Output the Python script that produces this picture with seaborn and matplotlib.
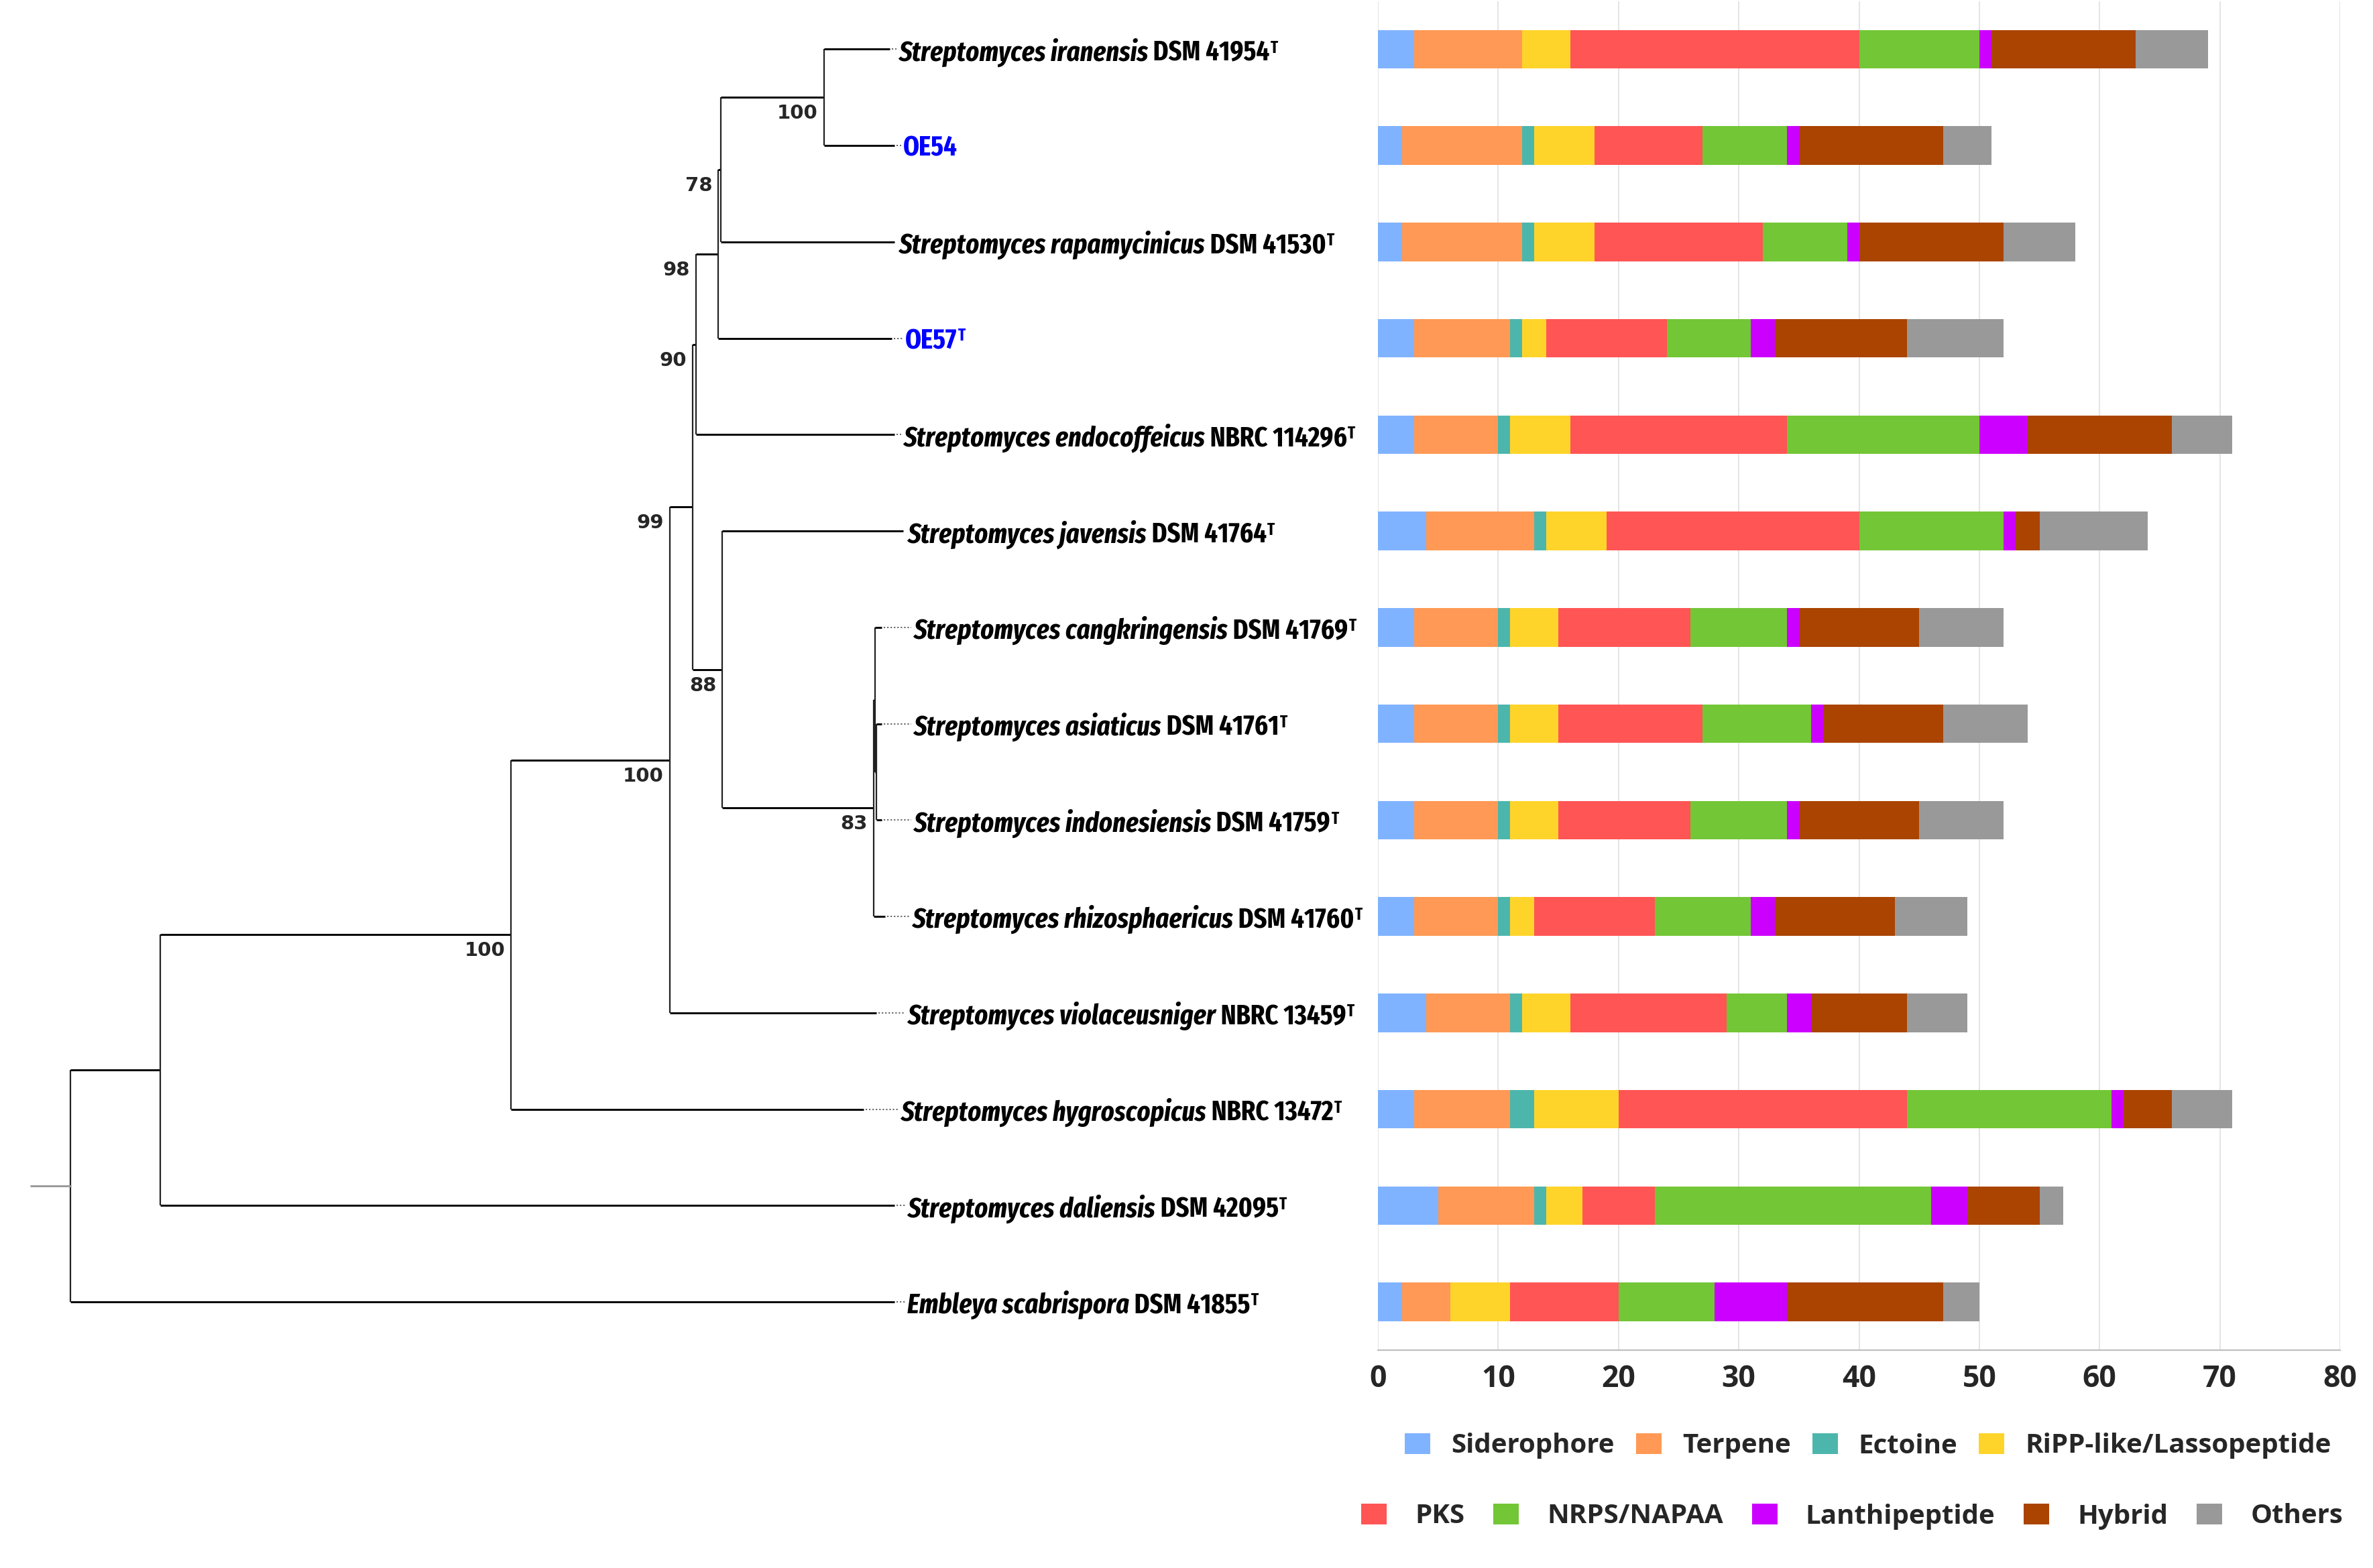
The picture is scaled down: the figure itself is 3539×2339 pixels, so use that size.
import matplotlib
matplotlib.use("Agg")
import matplotlib.pyplot as plt
from matplotlib import font_manager as fm
from matplotlib.patches import Patch
from matplotlib.font_manager import FontProperties
import numpy as np
import pandas as pd
import seaborn as sns

# ------------------------------------------------------------------ data
strain_ids = ["iranensis", "OE54", "rapamycinicus", "OE57", "endocoffeicus",
              "javensis", "cangkringensis", "asiaticus", "indonesiensis",
              "rhizosphaericus", "violaceusniger", "hygroscopicus",
              "daliensis", "scabrispora"]
species_names = ["Streptomyces iranensis", "", "Streptomyces rapamycinicus", "",
                 "Streptomyces endocoffeicus", "Streptomyces javensis",
                 "Streptomyces cangkringensis", "Streptomyces asiaticus",
                 "Streptomyces indonesiensis", "Streptomyces rhizosphaericus",
                 "Streptomyces violaceusniger", "Streptomyces hygroscopicus",
                 "Streptomyces daliensis", "Embleya scabrispora"]
strain_codes = ["DSM 41954", "OE54", "DSM 41530", "OE57", "NBRC 114296",
                "DSM 41764", "DSM 41769", "DSM 41761", "DSM 41759",
                "DSM 41760", "NBRC 13459", "NBRC 13472", "DSM 42095",
                "DSM 41855"]
type_strain = [True, False, True, True, True, True, True, True, True, True,
               True, True, True, True]
new_isolate = [False, True, False, True, False, False, False, False, False,
               False, False, False, False, False]

categories = ["Siderophore", "Terpene", "Ectoine", "RiPP-like/Lassopeptide",
              "PKS", "NRPS/NAPAA", "Lanthipeptide", "Hybrid", "Others"]
siderophore = [3, 2, 2, 3, 3, 4, 3, 3, 3, 3, 4, 3, 5, 2]
terpene = [9, 10, 10, 8, 7, 9, 7, 7, 7, 7, 7, 8, 8, 4]
ectoine = [0, 1, 1, 1, 1, 1, 1, 1, 1, 1, 1, 2, 1, 0]
ripp_lasso = [4, 5, 5, 2, 5, 5, 4, 4, 4, 2, 4, 7, 3, 5]
pks = [24, 9, 14, 10, 18, 21, 11, 12, 11, 10, 13, 24, 6, 9]
nrps_napaa = [10, 7, 7, 7, 16, 12, 8, 9, 8, 8, 5, 17, 23, 8]
lanthipeptide = [1, 1, 1, 2, 4, 1, 1, 1, 1, 2, 2, 1, 3, 6]
hybrid = [12, 12, 12, 11, 12, 2, 10, 10, 10, 10, 8, 4, 6, 13]
others = [6, 4, 6, 8, 5, 9, 7, 7, 7, 6, 5, 5, 2, 3]
series = [siderophore, terpene, ectoine, ripp_lasso, pks, nrps_napaa,
          lanthipeptide, hybrid, others]
colors = ["#80B3FF", "#FF9955", "#4DB6AC", "#FFD42A", "#FF5555", "#73C636",
          "#CC00FF", "#AA4400", "#999999"]
x_ticks = [0, 10, 20, 30, 40, 50, 60, 70, 80]

# phylogeny: node depth (tree axis units), children, bootstrap support
node_depth = {"root": 105, "A": 239, "B": 762, "C": 999, "D": 1033,
              "E": 1038, "G": 1071, "H": 1075, "I": 1229, "F": 1077,
              "J": 1303, "K1": 1305, "K2": 1307}
node_children = {"root": ["A", "scabrispora"], "A": ["B", "daliensis"],
                 "B": ["C", "hygroscopicus"], "C": ["D", "violaceusniger"],
                 "D": ["E", "F"], "E": ["G", "endocoffeicus"],
                 "G": ["H", "OE57"], "H": ["I", "rapamycinicus"],
                 "I": ["iranensis", "OE54"], "F": ["javensis", "J"],
                 "J": ["K1", "rhizosphaericus"], "K1": ["cangkringensis", "K2"],
                 "K2": ["asiaticus", "indonesiensis"]}
bootstrap = {"I": 100, "H": 78, "G": 98, "E": 90, "D": 99, "F": 88,
             "J": 83, "C": 100, "B": 100}
leaf_tip = [1327, 1334, 1334, 1330, 1334, 1347, 1315, 1315, 1315, 1320,
            1307, 1288, 1334, 1334]
label_start = [1340, 1347, 1340, 1350, 1347, 1353, 1362, 1362, 1362, 1360,
               1353, 1343, 1353, 1353]
root_stub_start = 46

# ------------------------------------------------------------------ fonts
sns.set_style("white")
entries = fm.fontManager.ttflist


def has_font(name, italic=False):
    for f in entries:
        if f.name == name:
            w = f.weight if isinstance(f.weight, (int, float)) else 700
            if (not italic or f.style == "italic") and w >= 600:
                return True
    return False


def pick(cands, italic=False):
    for c in cands:
        if has_font(c, italic):
            return c
    return "DejaVu Sans"


MAIN = pick(["Open Sans", "Noto Sans", "DejaVu Sans"])
LABEL = pick(["Fira Sans Extra Condensed", "Barlow Condensed",
              "Roboto Condensed", "IBM Plex Sans Condensed",
              "Fira Sans Condensed", "Open Sans"], italic=True)
plt.rcParams["font.family"] = [MAIN, "DejaVu Sans"]
plt.rcParams["font.weight"] = "bold"

# ------------------------------------------------------------------ figure
W, H = 3539, 2339
fig = plt.figure(figsize=(W / 100, H / 100), dpi=100)
ax_top_px, ax_bot_px = 1.5, 2014
x0_px, x80_px = 2055, 3490
bottom = 1 - ax_bot_px / H
height = (ax_bot_px - ax_top_px) / H
ax = fig.add_axes([x0_px / W, bottom, (x80_px - x0_px) / W, height])
axt = fig.add_axes([0, bottom, x0_px / W, height])

# stacked bars
df = pd.DataFrame({"strain": strain_ids})
cum = np.zeros(len(strain_ids))
cols = []
for name, vals in zip(categories, series):
    cum = cum + np.array(vals)
    df["cum_" + name] = cum
    cols.append("cum_" + name)
for col, c in reversed(list(zip(cols, colors))):
    sns.barplot(data=df, x=col, y="strain", order=strain_ids, color=c,
                width=0.4, saturation=1, linewidth=0, edgecolor="none",
                orient="h", errorbar=None, ax=ax)

ax.set_xlim(0, 80)
ax.set_ylim(len(strain_ids) - 0.5, -0.5)
ax.set_xticks(x_ticks)
ax.set_xlabel("")
ax.set_ylabel("")
ax.tick_params(axis="y", left=False, labelleft=False)
ax.tick_params(axis="x", length=0, pad=15, labelsize=32)
for lab in ax.get_xticklabels():
    lab.set_fontweight("bold")
ax.xaxis.grid(True, color="#dcdcdc", linewidth=1.1)
ax.yaxis.grid(False)
ax.set_axisbelow(True)
for s in ["left", "right", "top"]:
    ax.spines[s].set_visible(False)
ax.spines["bottom"].set_color("#bfbfbf")
ax.spines["bottom"].set_linewidth(1.6)

# ------------------------------------------------------------------ tree
axt.set_xlim(0, x0_px)
axt.set_ylim(len(strain_ids) - 0.5, -0.5)
axt.axis("off")
px_per_row = (ax_bot_px - ax_top_px) / len(strain_ids)

leaf_index = {s: i for i, s in enumerate(strain_ids)}
parent = {}
for p, ch in node_children.items():
    for c in ch:
        parent[c] = p
node_y = {}


def get_y(n):
    if n in leaf_index:
        return float(leaf_index[n])
    if n not in node_y:
        ys = [get_y(c) for c in node_children[n]]
        node_y[n] = (min(ys) + max(ys)) / 2
    return node_y[n]


HLW, VLW = 2.1, 1.6
for n, ch in node_children.items():
    x = node_depth[n]
    ys = [get_y(c) for c in ch]
    axt.plot([x, x], [min(ys), max(ys)], color="#222222", lw=VLW,
             solid_capstyle="butt")
    for c in ch:
        xe = node_depth[c] if c in node_depth else leaf_tip[leaf_index[c]]
        axt.plot([x, xe], [get_y(c), get_y(c)], color="black", lw=HLW,
                 solid_capstyle="butt")

axt.plot([root_stub_start, node_depth["root"]], [get_y("root")] * 2,
         color="#999999", lw=HLW)

for i in range(len(strain_ids)):
    if label_start[i] - leaf_tip[i] > 8:
        axt.plot([leaf_tip[i] + 3, label_start[i] - 3], [i, i],
                 color="#555555", lw=1.3, ls=(0, (1.2, 1.6)))

for n, v in bootstrap.items():
    d = node_depth[n]
    pd_ = node_depth[parent[n]]
    anchor = d if d - pd_ >= 42 else pd_
    axt.text(anchor - 9, get_y(n) + 10 / px_per_row, str(v), ha="right",
             va="top", fontsize=21, fontweight="bold", family="DejaVu Sans")

# leaf labels
label_texts = []
base = 30
for i in range(len(strain_ids)):
    y = i
    if new_isolate[i]:
        t1 = axt.text(label_start[i], y, strain_codes[i], ha="left",
                      va="center_baseline", fontsize=base, family=LABEL,
                      fontweight="bold", color="#0000FF", clip_on=False)
        last = t1
        col = "#0000FF"
        parts = [t1]
    else:
        t1 = axt.text(label_start[i], y, species_names[i], ha="left",
                      va="center_baseline", fontsize=base, family=LABEL,
                      fontweight="bold", fontstyle="italic", color="black",
                      clip_on=False)
        t2 = axt.annotate(" " + strain_codes[i], xy=(1, 0), xycoords=t1,
                          ha="left", va="bottom", fontsize=base, family=LABEL,
                          fontweight="bold", color="black",
                          annotation_clip=False)
        last = t2
        col = "black"
        parts = [t1, t2]
    if type_strain[i]:
        t3 = axt.annotate("T", xy=(1, 1), xycoords=last, xytext=(1.0, 0),
                          textcoords="offset points", ha="left", va="top",
                          fontsize=base * 0.6, family=LABEL,
                          fontweight="bold", color=col,
                          annotation_clip=False)
        parts.append(t3)
    label_texts.append(parts)

# fit label size so the first label spans its width in the reference
target_w = 566.0
for _ in range(4):
    fig.canvas.draw()
    r = fig.canvas.get_renderer()
    exts = [t.get_window_extent(r) for t in label_texts[0]]
    w0 = max(e.x1 for e in exts) - min(e.x0 for e in exts)
    scale = target_w / w0
    for parts in label_texts:
        for t in parts:
            t.set_fontsize(t.get_fontsize() * scale)

# ------------------------------------------------------------------ legends
prop = FontProperties(family=MAIN, weight="bold", size=29)
fsz = 29 / 72 * 100
h1 = [Patch(facecolor=c, edgecolor="none", label=n)
      for n, c in zip(categories[:4], colors[:4])]
h2 = [Patch(facecolor=c, edgecolor="none", label=n)
      for n, c in zip(categories[4:], colors[4:])]
fig.legend(handles=h1, loc="center", bbox_to_anchor=(2786 / W, 1 - 2157 / H),
           ncol=4, frameon=False, prop=prop, handlelength=38 / fsz,
           handleheight=33 / fsz, handletextpad=31 / fsz,
           columnspacing=32 / fsz, borderpad=0.2)
fig.legend(handles=h2, loc="center", bbox_to_anchor=(2762 / W, 1 - 2262 / H),
           ncol=5, frameon=False, prop=prop, handlelength=38 / fsz,
           handleheight=33 / fsz, handletextpad=42 / fsz,
           columnspacing=43 / fsz, borderpad=0.2)

fig.savefig("out.png", dpi=100, facecolor="white")
